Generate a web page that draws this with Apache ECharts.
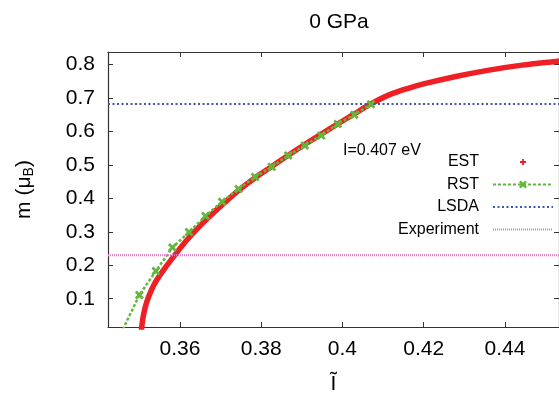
<!DOCTYPE html>
<html><head><meta charset="utf-8">
<script src="https://cdn.jsdelivr.net/npm/echarts@6/dist/echarts.min.js"></script>
<style>html,body{margin:0;padding:0;background:#fff}#c{width:559px;height:400px}</style>
</head><body><div id="c"></div>
<script>
// EST (dense red crosses)
const estX = [0.3505, 0.3506, 0.3510, 0.3518, 0.3531, 0.3544, 0.3561, 0.3586, 0.3612, 0.3641, 0.3674, 0.3710, 0.3746, 0.3786, 0.3827, 0.3866, 0.3906, 0.3947, 0.3988, 0.4029, 0.4070, 0.4115, 0.4160, 0.4197, 0.4279, 0.4361, 0.4442, 0.4524, 0.4540];
const estY = [0.000, 0.015, 0.049, 0.089, 0.129, 0.158, 0.188, 0.228, 0.268, 0.307, 0.347, 0.387, 0.425, 0.462, 0.496, 0.528, 0.560, 0.591, 0.622, 0.652, 0.682, 0.709, 0.728, 0.741, 0.764, 0.783, 0.798, 0.809, 0.811];
// RST (green x markers, dashed)
const rstX = [0.34595, 0.35002, 0.35409, 0.35816, 0.36223, 0.36630, 0.37037, 0.37444, 0.37851, 0.38258, 0.38665, 0.39072, 0.39479, 0.39886, 0.40293, 0.40700];
const rstY = [0.008, 0.111, 0.183, 0.253, 0.299, 0.347, 0.390, 0.428, 0.464, 0.494, 0.528, 0.558, 0.588, 0.622, 0.650, 0.681];
const lsdaValue = 0.682;
const experimentValue = 0.230;
const xTicks = [0.36, 0.38, 0.40, 0.42, 0.44];
const yTicks = [0.1, 0.2, 0.3, 0.4, 0.5, 0.6, 0.7, 0.8];
const xRange = [0.3423, 0.4533];
const yRange = [0.0155, 0.8372];
const annotation = 'I=0.407 eV';

const FONT = '"Liberation Sans", Arial, sans-serif';
const RED = '#ee1f25', GREEN = '#62b83c', BLUE = '#3a58b4', PINK = '#d883c6';
const AX = '#333';
const fmt = v => String(+(+v).toFixed(2));

const zip = (xs, ys) => xs.map((x, i) => [x, ys[i]]);
const xPath = 'path://M0,2.2L2.2,0L5,2.8L7.8,0L10,2.2L7.2,5L10,7.8L7.8,10L5,7.2L2.2,10L0,7.8L2.8,5Z';
const estIcon = 'path://M0,0L0.01,0L0.01,0.01ZM60,10L59.99,10L59.99,9.99ZM27,4.1H33V5.9H27ZM29.1,2H30.9V8H29.1Z';

function axisCommon(extra) {
  return Object.assign({
    type: 'value',
    axisLine: { show: true, onZero: false, lineStyle: { color: AX, width: 1.2 } },
    splitLine: { show: false },
  }, extra);
}

const chart = echarts.init(document.getElementById('c'), null, { renderer: 'canvas' });
chart.setOption({
  animation: false,
  backgroundColor: '#fff',
  title: {
    text: '0 GPa', left: 334, top: 7, textAlign: 'center',
    textStyle: { fontFamily: FONT, fontSize: 21, fontWeight: 'normal', color: '#000' }
  },
  grid: { left: 108, top: 52, right: -1, bottom: 72, containLabel: false },
  xAxis: [
    axisCommon({
      position: 'bottom', min: xRange[0], max: xRange[1],
      axisTick: { show: true, inside: true, length: 5, customValues: xTicks, lineStyle: { color: AX } },
      axisLabel: { customValues: xTicks, formatter: fmt, fontFamily: FONT, fontSize: 21, color: '#000', margin: 12 },
      name: 'Ĩ', nameLocation: 'middle', nameGap: 47,
      nameTextStyle: { fontFamily: FONT, fontSize: 21, color: '#000' }
    }),
    axisCommon({
      position: 'top', min: xRange[0], max: xRange[1],
      axisTick: { show: true, inside: true, length: 5, customValues: xTicks, lineStyle: { color: AX } },
      axisLabel: { show: false }
    })
  ],
  yAxis: [
    axisCommon({
      position: 'left', min: yRange[0], max: yRange[1],
      axisTick: { show: true, inside: true, length: 5, customValues: yTicks, lineStyle: { color: AX } },
      axisLabel: { customValues: yTicks, formatter: fmt, fontFamily: FONT, fontSize: 21, color: '#000', margin: 13 },
      name: '{a|m (μ}{b|B}{a|)}', nameLocation: 'middle', nameGap: 72, nameRotate: 90,
      nameTextStyle: {
        fontFamily: FONT, fontSize: 21, color: '#000',
        rich: {
          a: { fontFamily: FONT, fontSize: 21, color: '#000' },
          b: { fontFamily: FONT, fontSize: 14, color: '#000', padding: [10, 0, 0, 0] }
        }
      }
    }),
    axisCommon({
      position: 'right', min: yRange[0], max: yRange[1],
      axisTick: { show: true, inside: true, length: 5, customValues: yTicks, lineStyle: { color: AX } },
      axisLabel: { show: false }
    })
  ],
  legend: {
    orient: 'vertical', right: 5, top: 154, align: 'right',
    itemWidth: 60, itemHeight: 10, itemGap: 6.5, padding: 0,
    selectedMode: false,
    textStyle: { fontFamily: FONT, fontSize: 16, color: '#000', padding: [0, 9, 0, 0] },
    data: [
      { name: 'EST', icon: estIcon },
      { name: 'RST' },
      { name: 'LSDA', itemStyle: { opacity: 0 } },
      { name: 'Experiment', itemStyle: { opacity: 0 } }
    ]
  },
  graphic: [{
    type: 'text', left: 343, top: 143,
    style: { text: annotation, font: '16px ' + FONT, fill: '#000' }
  }],
  series: [
    {
      name: 'EST', type: 'line', xAxisIndex: 0, yAxisIndex: 0,
      data: zip(estX, estY), showSymbol: false, symbol: 'none', clip: true,
      smooth: 0.3,
      itemStyle: { color: RED },
      lineStyle: { color: RED, width: 5.5 }
    },
    {
      name: 'RST', type: 'line', xAxisIndex: 0, yAxisIndex: 0,
      data: zip(rstX, rstY), symbol: xPath, symbolSize: 9, showAllSymbol: true, clip: true,
      itemStyle: { color: GREEN },
      lineStyle: { color: GREEN, width: 2.5, type: [3, 2] }
    },
    {
      name: 'LSDA', type: 'line', xAxisIndex: 0, yAxisIndex: 0,
      data: [[xRange[0], lsdaValue], [xRange[1], lsdaValue]], symbol: 'none',
      itemStyle: { color: BLUE },
      lineStyle: { color: BLUE, width: 2, type: [2, 2.5] }
    },
    {
      name: 'Experiment', type: 'line', xAxisIndex: 0, yAxisIndex: 0,
      data: [[xRange[0], experimentValue], [xRange[1], experimentValue]], symbol: 'none',
      itemStyle: { color: PINK },
      lineStyle: { color: PINK, width: 2.2, type: [1, 1] }
    }
  ]
});
</script>
</body></html>
